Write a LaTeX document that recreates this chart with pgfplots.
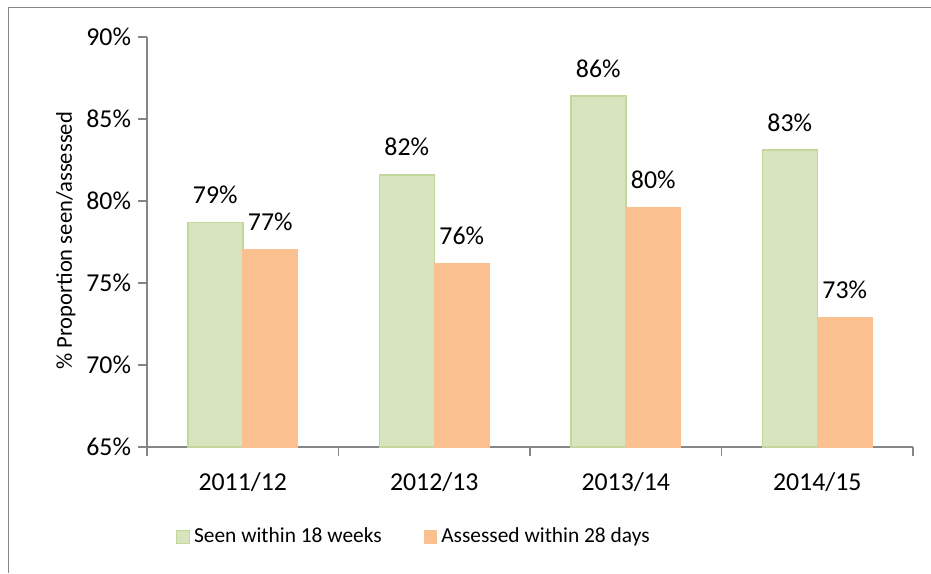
\documentclass[border=0pt]{standalone}
\usepackage{pgfplots}
\pgfplotsset{compat=1.18}
\usepackage{fontspec}
\setmainfont{Carlito}
\definecolor{grn}{RGB}{215,228,189}
\definecolor{grnb}{RGB}{195,214,155}
\definecolor{org}{RGB}{250,192,144}
\definecolor{axgray}{RGB}{134,134,134}
\newcommand{\tickfont}{\fontsize{12.9}{15}\selectfont}
\newcommand{\legfont}{\fontsize{10.7}{13}\selectfont}
\newcommand{\labfont}{\fontsize{11.3}{13}\selectfont}
\begin{document}
\begin{tikzpicture}
\useasboundingbox (0,0) rectangle (465.5pt,286.5pt);
\draw[axgray, line width=0.6pt] (4.15pt,0) |- (465.5pt,282.85pt);
\begin{axis}[
  at={(73.5pt,63pt)}, anchor=south west,
  scale only axis, width=383pt, height=205pt,
  /pgf/number format/assume math mode=true,
  ymin=65, ymax=90, ytick={65,70,...,90},
  yticklabel={\pgfmathprintnumber{\tick}\%},
  xmin=-0.5, xmax=3.5,
  xtick={-0.5,0.5,1.5,2.5,3.5}, xticklabels={,,,,,},
  extra x ticks={0,1,2,3},
  extra x tick labels={2011/12,2012/13,2013/14,2014/15},
  extra x tick style={major tick length=0pt, xticklabel style={anchor=base, yshift=-21.5pt}},
  axis x line*=bottom, axis y line*=left,
  axis line style={-, draw=axgray, line width=0.6pt},
  tick style={draw=axgray, line width=0.6pt},
  tick align=outside,
  major tick length=4.5pt,
  ticklabel style={font=\tickfont, text=black},
  ylabel={\% Proportion seen/assessed},
  ylabel style={font=\labfont, at={(axis description cs:-0.0927,0.503)}, anchor=south, inner sep=0pt},
  ybar=0pt, bar width=27.5pt,
  nodes near coords={\pgfmathprintnumber[fixed,precision=0]{\pgfplotspointmeta}\%},
  every node near coord/.append style={font=\tickfont, anchor=south, inner sep=0pt, yshift=9pt, text=black},
  legend image code/.code={\draw[#1] (0pt,-3.15pt) rectangle (6.3pt,3.15pt);},
  legend style={at={(0.347,-0.2195)}, anchor=center, draw=none, font=\legfont,
    legend columns=2, nodes={inner sep=0pt, anchor=west},
    /tikz/every odd column/.append style={column sep=2pt},
    /tikz/every even column/.append style={column sep=21pt}},
]
\addplot[fill=grn, draw=grnb, line width=0.75pt] coordinates {(0,78.7) (1,81.6) (2,86.4) (3,83.1)};
\addplot[fill=org, draw=org, line width=0.5pt] coordinates {(0,77.05) (1,76.2) (2,79.6) (3,72.9)};
\legend{Seen within 18 weeks, Assessed within 28 days}
\end{axis}
\end{tikzpicture}
\end{document}
